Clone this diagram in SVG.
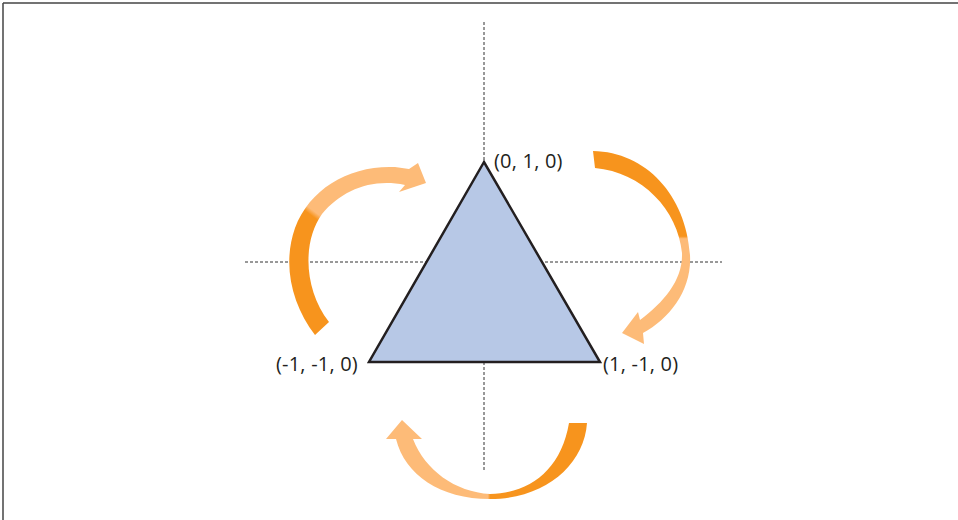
<svg xmlns="http://www.w3.org/2000/svg" width="958" height="520" viewBox="0 0 958 520">
<style>
.axis{stroke:#333;stroke-width:1;stroke-dasharray:3 2;fill:none}
.lbl{font-family:"Open Sans","Noto Sans",sans-serif;font-size:20px;fill:#231f20;letter-spacing:0.2px}
.frame{stroke:#444;stroke-width:1.5}
</style>
<defs>
<linearGradient id="gL" gradientUnits="userSpaceOnUse" x1="300" y1="235" x2="330" y2="195">
<stop offset="0.45" stop-color="#f7941d"/><stop offset="0.55" stop-color="#fdbb78"/>
</linearGradient>
<linearGradient id="gR" gradientUnits="userSpaceOnUse" x1="0" y1="225" x2="0" y2="250">
<stop offset="0.45" stop-color="#f7941d"/><stop offset="0.55" stop-color="#fdbb78"/>
</linearGradient>
<linearGradient id="gB" gradientUnits="userSpaceOnUse" x1="500" y1="0" x2="478" y2="0">
<stop offset="0.45" stop-color="#f7941d"/><stop offset="0.55" stop-color="#fdbb78"/>
</linearGradient>
</defs>
<rect width="958" height="520" fill="#fff"/>
<line class="frame" x1="3" y1="3" x2="958" y2="3"/>
<line class="frame" x1="3" y1="3" x2="3" y2="520"/>
<g id="axes">
<line class="axis" x1="484" y1="22" x2="484" y2="472"/>
<line class="axis" x1="245" y1="262" x2="722" y2="262"/>
</g>
<g id="triangle">
<polygon points="484,162 369,362 600,362" fill="#b7c8e6" stroke="#231f20" stroke-width="2.5" stroke-linejoin="miter"/>
</g>
<g id="connectors">
<path id="arrow-left" fill="url(#gL)" d="M315,335 C292,305 282,265 295,228 C310,188 350,165 395,167 L409,169 L418,163 L426,183 L399,192 L405,185 C372,178 342,190 322,214 C302,242 304,290 329,322 Z"/>
<path id="arrow-right" fill="url(#gR)" d="M593,151 C646,152 686,195 690,255 C692,290 670,318 643,333 L644,344 L622,333 L638,312 L640,320 C664,302 683,280 682,253 C678,210 642,172 595,168 Z"/>
<path id="arrow-bottom" fill="url(#gB)" d="M587,423 C584,465 545,499 490,499 C440,499 405,475 396,439 L386,439 L402,420 L422,439 L413,439 C425,470 455,492 490,494 C530,493 561,470 569,423 Z"/>
</g>
<g id="label-top"><text class="lbl" x="494" y="168">(0, 1, 0)</text></g>
<g id="label-left"><text class="lbl" x="276" y="371">(-1, -1, 0)</text></g>
<g id="label-right"><text class="lbl" x="603" y="371">(1, -1, 0)</text></g>
</svg>
